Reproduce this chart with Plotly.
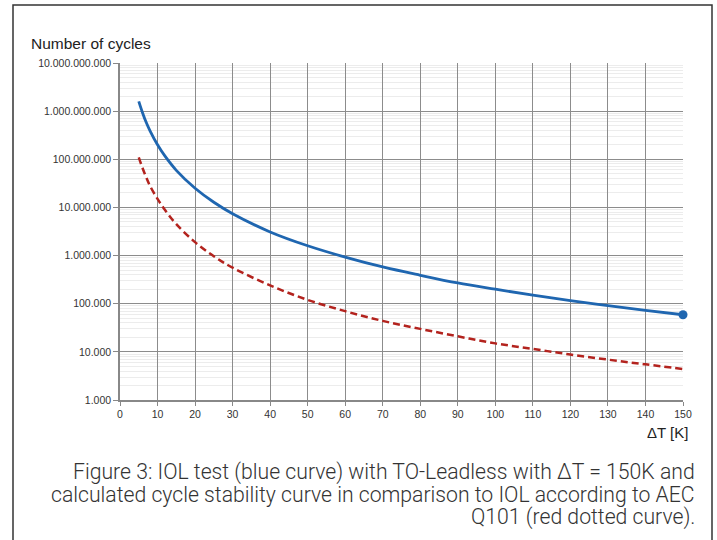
import plotly.graph_objects as go

# Data
delta_t = [5, 6, 7, 8, 10, 12, 15, 20, 25, 30, 40, 50, 60, 70, 80, 90, 100, 110, 120, 130, 140, 150]
iol_test = [1.6e9, 9.3e8, 5.8e8, 3.9e8, 2.0e8, 1.16e8, 5.9e7, 2.5e7, 1.28e7, 7.4e6, 3.1e6, 1.6e6,
            9.3e5, 5.8e5, 3.9e5, 2.7e5, 2.0e5, 1.5e5, 1.16e5, 9.1e4, 7.3e4, 5.9e4]
aec_q101 = [1.1e8, 6.6e7, 4.2e7, 2.8e7, 1.5e7, 8.8e6, 4.5e6, 1.9e6, 9.7e5, 5.6e5, 2.4e5, 1.2e5,
            7.0e4, 4.4e4, 3.0e4, 2.1e4, 1.5e4, 1.15e4, 8.8e3, 6.9e3, 5.5e3, 4.4e3]
marker_x = [150]
marker_y = [5.9e4]

y_tickvals = [1e3, 1e4, 1e5, 1e6, 1e7, 1e8, 1e9, 1e10]
y_ticktext = ["1.000", "10.000", "100.000", "1.000.000", "10.000.000", "100.000.000",
              "1.000.000.000", "10.000.000.000"]
x_tickvals = list(range(0, 151, 10))

caption_lines = [
    "Figure 3: IOL test (blue curve) with TO-Leadless with ΔT = 150K and",
    "calculated cycle stability curve in comparison to IOL according to AEC",
    "Q101 (red dotted curve).",
]

W, H = 717, 540
L, R, T, B = 120, 683, 63, 400
pw, ph = R - L, B - T

def px(x):
    return (x - L) / pw

def py(y):
    return (B - y) / ph

FONT = "Liberation Sans, Arial, sans-serif"
CAPTION_FONT = "Roboto, Liberation Sans, sans-serif"

fig = go.Figure()
fig.add_trace(go.Scatter(x=delta_t, y=aec_q101, mode="lines",
                         line=dict(color="#b3231e", width=2.5, dash="7px,4px", shape="spline"),
                         showlegend=False))
fig.add_trace(go.Scatter(x=delta_t, y=iol_test, mode="lines",
                         line=dict(color="#1f66b0", width=2.8, shape="spline"),
                         showlegend=False))
fig.add_trace(go.Scatter(x=marker_x, y=marker_y, mode="markers", marker=dict(color="#1f66b0", size=9),
                         showlegend=False, cliponaxis=False))

fig.update_xaxes(range=[0, 150], tickvals=x_tickvals, ticks="outside", ticklen=4, tickcolor="#888",
                 showline=True, linecolor="#888", linewidth=1.5, showgrid=True, gridcolor="#8c8c8c", gridwidth=1,
                 zeroline=False, tickfont=dict(family=FONT, size=10.5, color="#333"))
fig.update_yaxes(type="log", range=[3, 10], tickvals=y_tickvals, ticktext=y_ticktext, ticks="outside", ticklen=5,
                 tickcolor="#888", showline=True, linecolor="#888", linewidth=1.5, showgrid=True,
                 gridcolor="#8c8c8c", gridwidth=1, zeroline=False,
                 tickfont=dict(family=FONT, size=10.5, color="#333"),
                 minor=dict(dtick="D1", showgrid=True, gridcolor="#ececec", gridwidth=1, ticks=""))

annotations = [
    dict(text="Number of cycles", x=px(29), y=py(44), xref="paper", yref="paper", xanchor="left",
         yanchor="middle", showarrow=False, font=dict(family=FONT, size=15.5, color="#222")),
    dict(text="ΔT [K]", x=px(690), y=py(432), xref="paper", yref="paper", xanchor="right",
         yanchor="middle", showarrow=False, font=dict(family=FONT, size=15, color="#222")),
]
for i, line in enumerate(caption_lines):
    annotations.append(dict(text=line, x=px(697), y=py(472 + 22.5 * i), xref="paper", yref="paper",
                            xanchor="right", yanchor="middle", showarrow=False,
                            font=dict(family=CAPTION_FONT, size=21.2, color="#333", weight=300)))

fig.update_layout(
    width=W, height=H, margin=dict(l=L, r=W - R, t=T, b=H - B),
    plot_bgcolor="white", paper_bgcolor="white", annotations=annotations,
    shapes=[dict(type="rect", xref="paper", yref="paper", x0=px(13), x1=px(712), y0=py(545), y1=py(5),
                 line=dict(color="#333", width=1.5), layer="below")],
)

fig.write_html("out.html", config={"displayModeBar": False},
               post_script="document.body.style.margin='0';document.body.style.overflow='hidden';")
